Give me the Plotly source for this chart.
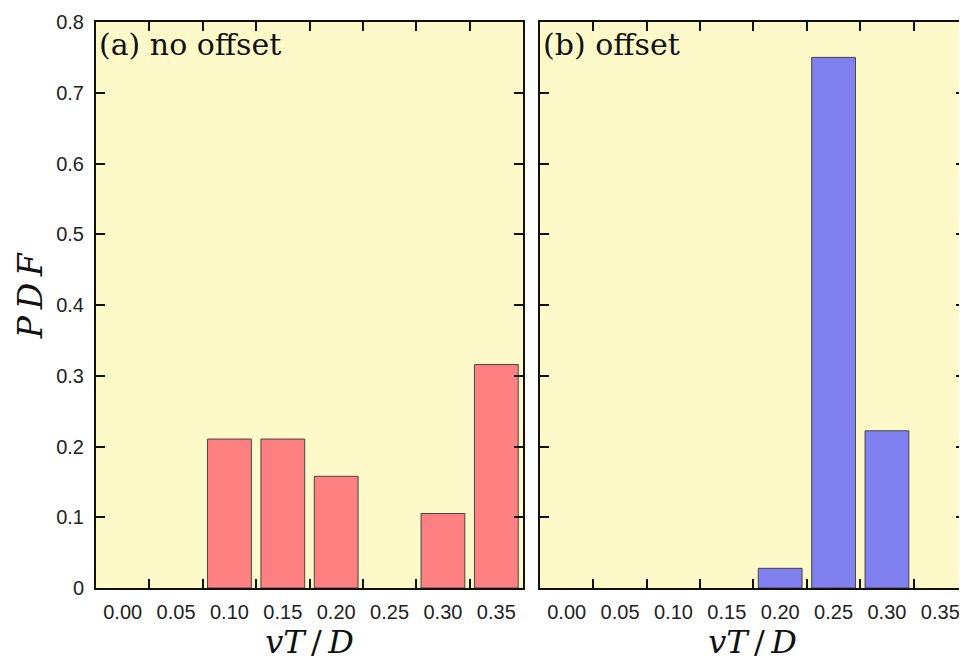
import plotly.graph_objects as go

# ---- data ----
bins = ["0.00", "0.05", "0.10", "0.15", "0.20", "0.25", "0.30", "0.35"]
pdf_no_offset = [0.0, 0.0, 0.2105, 0.2105, 0.1579, 0.0, 0.1053, 0.3158]
pdf_offset = [0.0, 0.0, 0.0, 0.0, 0.0278, 0.75, 0.2222, 0.0]
y_ticks = [0, 0.1, 0.2, 0.3, 0.4, 0.5, 0.6, 0.7, 0.8]
y_ticktext = ["0", "0.1", "0.2", "0.3", "0.4", "0.5", "0.6", "0.7", "0.8"]

BG = "#FEF9C9"
RED = "#FF8080"
BLUE = "#8080F0"
EDGE = "#444444"
TICKFONT = dict(family="Liberation Sans, Arial, sans-serif", size=20, color="#222")
SERIF = "DejaVu Serif, Liberation Serif, serif"
THIN = "\u2009"

def edge_widths(vals):
    return [0 if v == 0 else 1 for v in vals]

fig = go.Figure()
fig.add_trace(go.Bar(x=bins, y=pdf_no_offset, xaxis="x", yaxis="y",
                     marker=dict(color=RED, line=dict(color=EDGE, width=edge_widths(pdf_no_offset))),
                     width=0.82, showlegend=False))
fig.add_trace(go.Bar(x=bins, y=pdf_offset, xaxis="x2", yaxis="y2",
                     marker=dict(color=BLUE, line=dict(color=EDGE, width=edge_widths(pdf_offset))),
                     width=0.82, showlegend=False))

# browser body has an 8px margin: figure is placed at (8, 8) in the window
OFF = 8
W, H = 967 - OFF, 663 - OFF
ML, MR, MT = 96 - OFF, 0, 22 - OFF
MB = H - MT - 566
pw = W - ML - MR
ph = H - MT - MB

left_end = 428 / pw
right_start = 445 / pw
right_px = pw - 445
right_range_end = -0.5 + 8 * right_px / 428

title_x = "<i>vT</i>" + THIN + "/" + THIN + "<i>D</i>"

common_x = dict(type="category", categoryorder="array", categoryarray=bins,
                tickson="boundaries", ticks="inside", ticklen=9, tickwidth=2,
                tickcolor="#111", showline=True, linewidth=2, linecolor="#111",
                mirror="ticks", showgrid=False, zeroline=False,
                tickfont=TICKFONT, ticklabelstandoff=5,
                title=dict(text=title_x,
                           font=dict(family=SERIF, size=32, color="#111"),
                           standoff=6))
common_y = dict(range=[0, 0.8], tickvals=y_ticks, ticks="inside", ticklen=9,
                tickwidth=2, tickcolor="#111", showline=True, linewidth=2,
                linecolor="#111", mirror="ticks", showgrid=False, zeroline=False,
                tickfont=TICKFONT, ticklabelstandoff=6)

fig.update_layout(
    width=W, height=H,
    margin=dict(l=ML, r=MR, t=MT, b=MB),
    paper_bgcolor="white",
    plot_bgcolor=BG,
    xaxis=dict(domain=[0, left_end], range=[-0.5, 7.5], anchor="y", **common_x),
    xaxis2=dict(domain=[right_start, 1], range=[-0.5, right_range_end], anchor="y2", **common_x),
    yaxis=dict(anchor="x", ticktext=y_ticktext, **common_y),
    yaxis2=dict(anchor="x2", showticklabels=False, **common_y),
    bargap=0.18,
    annotations=[
        dict(text="(a) no offset", xref="paper", yref="paper",
             x=1 / pw, y=1 - 3 / ph, xanchor="left", yanchor="top", showarrow=False,
             font=dict(family=SERIF, size=30, color="#111")),
        dict(text="(b) offset", xref="paper", yref="paper",
             x=right_start + 1 / pw, y=1 - 3 / ph, xanchor="left", yanchor="top", showarrow=False,
             font=dict(family=SERIF, size=30, color="#111")),
        dict(text="<i>P" + THIN + "D" + THIN + "F</i>", xref="paper", yref="paper",
             x=(30 - 96) / pw, y=(588 - 296) / ph, xanchor="center", yanchor="middle",
             textangle=-90, showarrow=False,
             font=dict(family=SERIF, size=33, color="#111")),
    ],
)

fig.write_html("out.html")
